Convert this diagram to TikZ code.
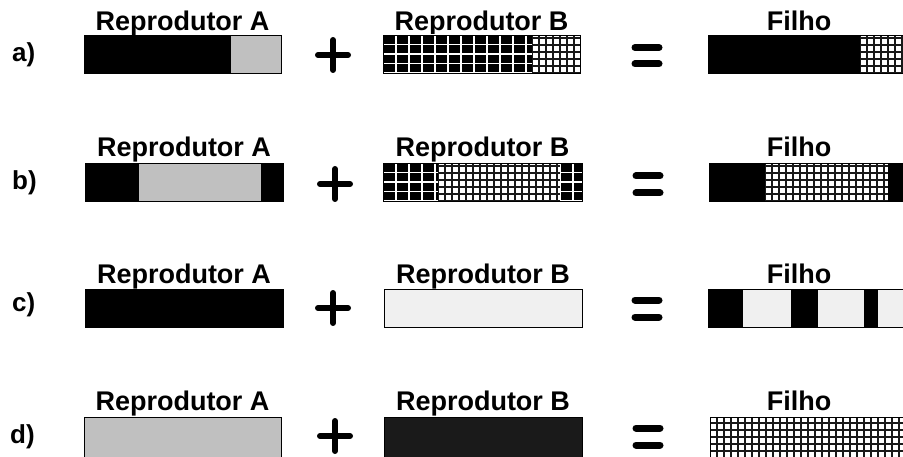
\documentclass[tikz,border=0pt]{standalone}
\usepackage{fontspec}
\setmainfont{Liberation Sans}
\usepackage{tikz}
\usepackage{xcolor}

\definecolor{barGray}{HTML}{C0C0C0}
\definecolor{barPale}{HTML}{F0F0F0}
\definecolor{barDark}{HTML}{1A1A1A}

% dark chromosome section: black with white grid (x, y, width, height)
\newcommand{\darkgrid}[4]{%
  \begin{scope}
    \clip (#1,#2) rectangle ++(#3,#4);
    \fill[black] (#1,#2) rectangle ++(#3,#4);
    \draw[white, line width=1.5pt, xstep=13, ystep=9.5, shift={(#1,#2)}] (0,0) grid (#3,#4);
  \end{scope}}
% light chromosome section: white with black grid
\newcommand{\lightgrid}[4]{%
  \begin{scope}
    \clip (#1,#2) rectangle ++(#3,#4);
    \fill[white] (#1,#2) rectangle ++(#3,#4);
    \draw[black!90, line width=1.8pt, xstep=7, ystep=7, shift={(#1,#2)}] (0,0) grid (#3,#4);
  \end{scope}}

\begin{document}
\begin{tikzpicture}[x=1pt, y=1pt,
        lbl/.style={font=\fontsize{27}{30}\selectfont\bfseries, anchor=base, inner sep=0pt},
        rowlbl/.style={font=\fontsize{26}{30}\selectfont\bfseries, anchor=west, inner sep=0pt},
        bar/.style={draw=black, line width=0.8pt},
        op/.style={line width=6pt, line cap=round},
        eq/.style={line width=7pt, line cap=round},
        ]
    \useasboundingbox (0,0) rectangle (903,456);

    % a)
    \node[rowlbl] (rowa) at (12,401) {a)};
    \node[lbl] (repAa) at (182.5,425) {Reprodutor A};
    \node[lbl] (repBa) at (481.5,425) {Reprodutor B};
    \node[lbl] (filhoa) at (799,425) {Filho};
    \fill[black] (84,383) rectangle (231,421);
    \fill[barGray] (231,383) rectangle (281,421);
    \draw[bar] (84,383) rectangle (281,421);
    \darkgrid{383}{383}{149}{38}
    \lightgrid{532}{383}{48}{38}
    \draw[bar] (383,383) rectangle (580,421);
    \fill[black] (708,383) rectangle (860,421);
    \lightgrid{860}{383}{46}{38}
    \draw[bar] (708,383) rectangle (906,421);
    \draw[op] (318,401) -- (348,401) (333,386) -- (333,416);
    \draw[eq] (635,408.5) -- (659,408.5) (635,392) -- (659,392);

    % b)
    \node[rowlbl] (rowb) at (12,273) {b)};
    \node[lbl] (repAb) at (184,299) {Reprodutor A};
    \node[lbl] (repBb) at (482.5,299) {Reprodutor B};
    \node[lbl] (filhob) at (799,299) {Filho};
    \fill[black] (85,255) rectangle (139,293);
    \fill[barGray] (139,255) rectangle (261,293);
    \fill[black] (261,255) rectangle (283,293);
    \draw[bar] (85,255) rectangle (283,293);
    \darkgrid{383}{255}{55}{38}
    \lightgrid{438}{255}{122}{38}
    \darkgrid{560}{255}{22}{38}
    \draw[bar] (383,255) rectangle (582,293);
    \fill[black] (709,255) rectangle (765,293);
    \lightgrid{765}{255}{123}{38}
    \fill[black] (888,255) rectangle (906,293);
    \draw[bar] (709,255) rectangle (906,293);
    \draw[op] (320,272) -- (350,272) (335,257) -- (335,287);
    \draw[eq] (636,280) -- (660,280) (636,263) -- (660,263);

    % c)
    \node[rowlbl] (rowc) at (12,151) {c)};
    \node[lbl] (repAc) at (184,173) {Reprodutor A};
    \node[lbl] (repBc) at (483,173) {Reprodutor B};
    \node[lbl] (filhoc) at (799,173) {Filho};
    \draw[bar, fill=black] (85,129) rectangle (283,167);
    \draw[bar, fill=barPale] (384,129) rectangle (582,167);
    \fill[barPale] (708,129) rectangle (906,167);
    \fill[black] (708,129) rectangle (743,167);
    \fill[black] (791,129) rectangle (818,167);
    \fill[black] (864,129) rectangle (878,167);
    \draw[bar] (708,129) rectangle (906,167);
    \draw[op] (318,148) -- (348,148) (333,133) -- (333,163);
    \draw[eq] (635,156) -- (659,156) (635,139) -- (659,139);

    % d)
    \node[rowlbl] (rowd) at (10,19) {d)};
    \node[lbl] (repAd) at (182.5,46) {Reprodutor A};
    \node[lbl] (repBd) at (483,46) {Reprodutor B};
    \node[lbl] (filhod) at (799,46) {Filho};
    \draw[bar, fill=barGray] (84,-2) rectangle (281,39);
    \draw[bar, fill=barDark] (384,-2) rectangle (582,39);
    \lightgrid{710}{-2}{196}{41}
    \draw[bar] (710,-2) rectangle (906,39);
    \draw[op] (320,20) -- (350,20) (335,5) -- (335,35);
    \draw[eq] (636,28) -- (660,28) (636,11) -- (660,11);
\end{tikzpicture}
\end{document}
